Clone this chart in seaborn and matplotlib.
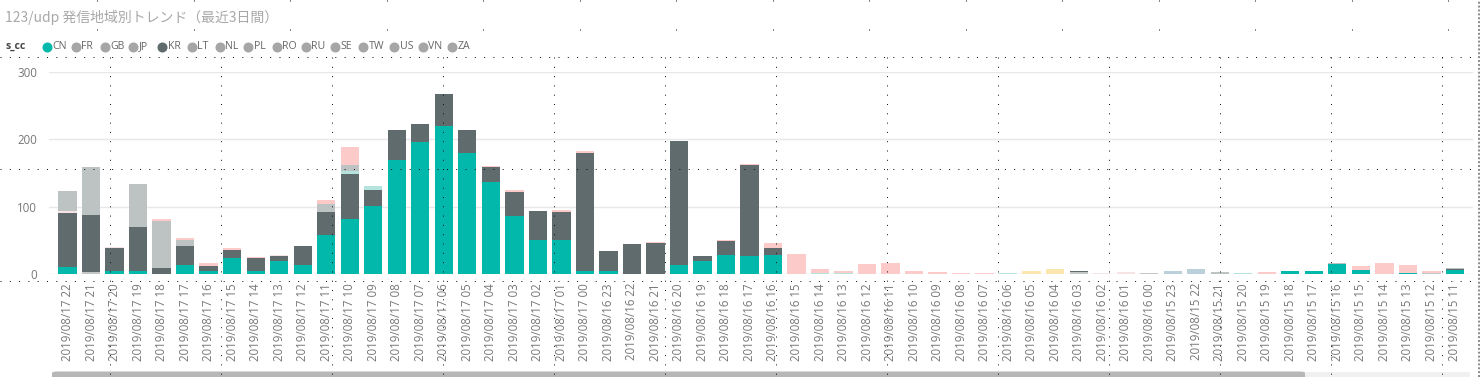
import numpy as np
import pandas as pd
import matplotlib
matplotlib.use("Agg")
import matplotlib.pyplot as plt
from matplotlib.lines import Line2D
from matplotlib.patches import FancyBboxPatch, Rectangle
import seaborn as sns

# ---------------- data ----------------
hour_labels = [
    "2019/08/17 22", "2019/08/17 21", "2019/08/17 20", "2019/08/17 19", "2019/08/17 18",
    "2019/08/17 17", "2019/08/17 16", "2019/08/17 15", "2019/08/17 14", "2019/08/17 13",
    "2019/08/17 12", "2019/08/17 11", "2019/08/17 10", "2019/08/17 09", "2019/08/17 08",
    "2019/08/17 07", "2019/08/17 06", "2019/08/17 05", "2019/08/17 04", "2019/08/17 03",
    "2019/08/17 02", "2019/08/17 01", "2019/08/17 00", "2019/08/16 23", "2019/08/16 22",
    "2019/08/16 21", "2019/08/16 20", "2019/08/16 19", "2019/08/16 18", "2019/08/16 17",
    "2019/08/16 16", "2019/08/16 15", "2019/08/16 14", "2019/08/16 13", "2019/08/16 12",
    "2019/08/16 11", "2019/08/16 10", "2019/08/16 09", "2019/08/16 08", "2019/08/16 07",
    "2019/08/16 06", "2019/08/16 05", "2019/08/16 04", "2019/08/16 03", "2019/08/16 02",
    "2019/08/16 01", "2019/08/16 00", "2019/08/15 23", "2019/08/15 22", "2019/08/15 21",
    "2019/08/15 20", "2019/08/15 19", "2019/08/15 18", "2019/08/15 17", "2019/08/15 16",
    "2019/08/15 15", "2019/08/15 14", "2019/08/15 13", "2019/08/15 12", "2019/08/15 11",
]

CN = [10, 0, 4, 4, 0, 14, 4, 24, 5, 20,
      14, 58, 81, 101, 169, 196, 219, 180, 136, 86,
      50, 51, 4, 5, 0, 0, 14, 20, 28, 26,
      28, 0, 0, 0, 0, 0, 0, 0, 0, 0,
      0, 0, 0, 0, 0, 0, 0, 0, 0, 0,
      0, 0, 5, 4, 15, 6, 0, 1.5, 0, 6]
FR = [0, 3, 0, 0, 0, 0, 0, 0, 0, 0,
      0, 0, 0, 0, 0, 0, 0, 0, 0, 0,
      0, 0, 0, 0, 0, 0, 0, 0, 0, 0,
      0, 0, 0, 0, 0, 0, 0, 0, 0, 0,
      0, 0, 0, 3, 0, 0, 2, 0, 0, 0,
      0, 0, 0, 0, 0, 0, 0, 0, 1, 0]
JP = [0, 0, 0, 0, 0, 0, 0, 0, 0, 0,
      0, 0, 0, 0, 0, 0, 0, 0, 0, 0,
      0, 0, 0, 0, 0, 0, 0, 0, 0, 0,
      0, 0, 0, 0, 0, 0, 0, 0, 0, 0,
      0, 4.5, 8, 0, 0, 0, 0, 0, 0, 0,
      0, 0, 0, 0, 0, 0, 0, 0, 0, 0]
KR = [80, 85, 34, 66, 9, 28, 8, 11, 18, 6,
      27, 34, 68, 23, 44, 26, 48, 33, 22, 36,
      43, 41, 176, 29, 45, 46, 183, 7, 21, 136,
      10, 0, 0, 0, 0, 0, 0, 0, 0, 0,
      0, 0, 0, 1.5, 0, 0, 0, 0, 0, 0,
      0, 0, 0, 0, 0, 0, 0, 0, 1, 2]
RO = [0, 0, 0, 0, 0, 0, 0, 0, 0, 0,
      0, 0, 0, 0, 0, 0, 0, 0, 0, 0,
      0, 0, 0, 0, 0, 0, 0, 0, 0, 0,
      0, 0, 0, 0, 0, 0, 0, 0, 0, 0,
      0, 0, 0, 0, 0, 0, 0, 5, 7, 0,
      0, 0, 0, 0, 0, 0, 0, 0, 0, 0]
RU = [4, 0, 2, 0, 0, 0, 0, 0, 0, 2,
      1, 0, 0, 0, 0, 0, 0, 0, 0, 0,
      0, 0, 0, 0, 0, 0, 0, 0, 0, 0,
      0, 0, 0, 0, 0, 0, 0, 0, 0, 0,
      0, 0, 0, 0, 1, 2.5, 0, 0, 0, 0,
      0, 0, 0, 0, 0, 0, 0, 0, 0, 0]
SE = [0, 0, 0, 0, 0, 0, 0, 0, 0, 0,
      0, 0, 4, 7, 0, 0, 0, 0, 0, 0,
      0, 0, 0, 0, 0, 0, 0, 0, 0, 0,
      0, 0, 2, 2, 0, 0, 0, 0, 0, 0,
      0.8, 0, 0, 0, 0, 0, 0, 0, 0, 0,
      1.5, 0, 0, 0.5, 0, 0, 0, 0, 0, 0]
TW = [29, 70, 0, 64, 70, 9, 0, 0, 0, 0,
      0, 12, 9, 0, 0, 0, 0, 0, 0, 0,
      0, 0, 0, 0, 0, 0, 0, 0, 0, 0,
      0, 0, 0, 0, 0, 0, 0, 0, 0, 0,
      0, 0, 0, 0, 0, 0, 0, 0, 0, 3,
      0, 0, 0, 0, 1.5, 0, 0, 0, 0, 1]
US = [0, 1, 0, 0, 2, 3, 4, 3, 2, 0,
      0, 6, 26, 0, 1, 0, 0, 0, 2, 3,
      0, 3, 2, 0, 0, 2, 0, 0, 1, 1.5,
      8, 30, 5, 3, 15, 17, 5, 3, 1.5, 0.8,
      0, 0, 0, 0, 0, 0, 0, 0, 0, 0,
      0, 3, 0, 0, 0, 5.5, 16, 11.5, 2.5, 0]

legend_codes = ["CN", "FR", "GB", "JP", "KR", "LT", "NL", "PL", "RO", "RU",
                "SE", "TW", "US", "VN", "ZA"]
y_ticks = [0, 100, 200, 300]
title_text = "123/udp 発信地域別トレンド（最近3日間）"

# ---------------- styling ----------------
series = {"CN": CN, "FR": FR, "JP": JP, "KR": KR, "RO": RO,
          "RU": RU, "SE": SE, "TW": TW, "US": US}
stack_order = ["CN", "FR", "JP", "KR", "RO", "RU", "SE", "TW", "US"]
palette = {"CN": "#01B8AA", "FR": "#C3C7C8", "JP": "#FBE7AE", "KR": "#5F6B6D",
           "RO": "#BBD0DB", "RU": "#F6E3E3", "SE": "#B5E4DF", "TW": "#BDC2C3",
           "US": "#FDCACA"}

rows = []
for cc in stack_order:
    for i, v in enumerate(series[cc]):
        rows.append({"idx": i, "value": v, "cc": cc})
df = pd.DataFrame(rows)

sns.set_theme(style="white")
plt.rcParams["font.family"] = ["Open Sans", "DejaVu Sans"]

W, H = 1481, 377
fig = plt.figure(figsize=(W / 100, H / 100), dpi=100)
fig.patch.set_facecolor("white")

def fx(px):
    return px / W

def fy(py):
    return 1 - py / H

ax = fig.add_axes([fx(49), fy(274), fx(1473) - fx(49), fy(71.7) - fy(274)])

sns.histplot(data=df, x="idx", weights="value", hue="cc",
             hue_order=stack_order[::-1], multiple="stack", discrete=True,
             shrink=0.78, palette=palette, alpha=1, linewidth=0,
             legend=False, ax=ax)

ax.set_xlim(-0.79, len(hour_labels) - 1 + 0.77)
ax.set_ylim(0, 300)
ax.set_yticks(y_ticks)
ax.set_yticklabels([str(t) for t in y_ticks])
ax.set_xticks(range(len(hour_labels)))
ax.set_xticklabels(hour_labels, rotation=90, va="top", ha="center")
ax.tick_params(axis="x", length=0, pad=6.5, labelsize=8.3, labelcolor="#777777")
ax.tick_params(axis="y", length=0, pad=8.5, labelsize=8.3, labelcolor="#777777")
ax.set_xlabel("")
ax.set_ylabel("")
for s in ax.spines.values():
    s.set_visible(False)
ax.yaxis.grid(True, color="#E8E8E8", linewidth=1)
ax.xaxis.grid(False)
ax.set_axisbelow(True)

# title
fig.text(fx(5), fy(17), title_text, fontsize=10, color="#A8A8A8",
         va="center", ha="left", family=["Noto Sans CJK JP", "DejaVu Sans"])

# legend (manual, Power BI style)
fig.text(fx(5), fy(46.5), "s_cc", fontsize=7.5, fontweight="bold",
         color="#444444", va="center", ha="left")
legend_x = [47.3, 76, 105, 133.3, 162.3, 191.7, 220, 248.3, 276.7, 306,
            335, 363.3, 394.3, 422.7, 451.7]
legend_colors = {"CN": "#01B8AA", "KR": "#5F6B6D"}
for code, x in zip(legend_codes, legend_x):
    c = legend_colors.get(code, "#A6A6A6")
    fig.add_artist(Line2D([fx(x)], [fy(46.5)], marker="o", markersize=6.2,
                          markerfacecolor=c, markeredgecolor=c, linestyle="none",
                          transform=fig.transFigure))
    fig.text(fx(x + 5.5), fy(46.5), code, fontsize=7.6, color="#666666",
             va="center", ha="left")

# Power BI canvas dotted grid
dot_kw = dict(color="#111111", linewidth=0.72, linestyle=(0, (1, 8.3)),
              transform=fig.transFigure, zorder=10)
for yy in [57.3, 169, 281]:
    fig.add_artist(Line2D([0, fx(1474)], [fy(yy), fy(yy)], **dot_kw))
for k in range(13):
    xx = 110 + 111 * k
    fig.add_artist(Line2D([fx(xx), fx(xx)], [fy(57.3), 0], **dot_kw))
for k in range(15):
    xx = 97 + 96.5 * k
    fig.add_artist(Line2D([fx(xx), fx(xx)], [1, fy(57.3)],
                          color="#111111", linewidth=0.72,
                          linestyle=(0, (1, 28)), transform=fig.transFigure,
                          zorder=10))
# right border of visual
fig.add_artist(Line2D([fx(1478.5), fx(1478.5)], [0, 1], color="#8A8A8A",
                      linewidth=1.4, linestyle=(0, (1, 1)),
                      transform=fig.transFigure, zorder=10))

# scrollbar
fig.add_artist(Rectangle((fx(1300), 0), fx(1470) - fx(1300), fy(371.5),
                         transform=fig.transFigure, facecolor="#F0F0F0",
                         edgecolor="none", zorder=3))
fig.add_artist(FancyBboxPatch((fx(52), -0.01), fx(1305) - fx(52), fy(371.5) + 0.01,
                              boxstyle="round,pad=0,rounding_size=0.004",
                              transform=fig.transFigure, facecolor="#B7B7B7",
                              edgecolor="none", zorder=4))

fig.savefig("out.png", dpi=100)
